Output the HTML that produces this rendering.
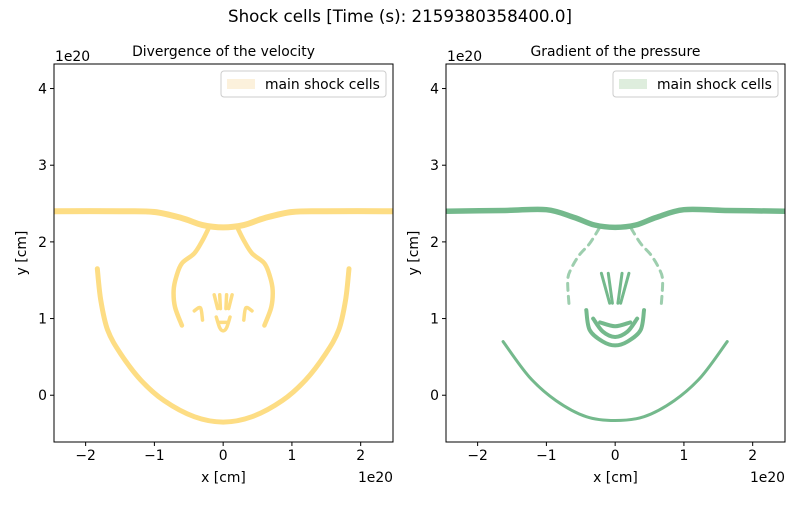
<!DOCTYPE html>
<html><head><meta charset="utf-8"><style>
body{margin:0;background:#fff}
svg{font-family:"DejaVu Sans","Liberation Sans",sans-serif}
</style></head><body>
<svg id="fig" width="800" height="500" viewBox="0 0 800 500">
<text x="400" y="22" text-anchor="middle" font-size="16.7">Shock cells [Time (s): 2159380358400.0]</text>
</svg>
<script>
// axis domain (units of 1e20 cm)
const xTicks=[-2,-1,0,1,2];
const xTickLabels=["−2","−1","0","1","2"];
const yTicks=[0,1,2,3,4];
const yTickLabels=["0","1","2","3","4"];
const xDomain=[-2.46,2.47];
const yDomain=[-0.61,4.32];
// left panel (divergence) features
const divTopLine=[[-2.46,2.4],[-1.5,2.4],[-1.0,2.39],[-0.6,2.31],[-0.3,2.22],[0,2.19],[0.3,2.22],[0.6,2.31],[1.0,2.39],[1.5,2.4],[2.47,2.4]];
const divBowL=[[-0.2,2.2],[-0.3,2.02],[-0.42,1.85],[-0.6,1.72],[-0.68,1.55],[-0.72,1.37],[-0.7,1.15],[-0.6,0.91]];
const divBowR=[[0.2,2.2],[0.3,2.02],[0.42,1.85],[0.6,1.72],[0.68,1.55],[0.72,1.37],[0.7,1.15],[0.6,0.91]];
const divArc=[[-1.83,1.65],[-1.78,1.24],[-1.68,0.85],[-1.49,0.54],[-1.2,0.2],[-0.86,-0.07],[-0.42,-0.28],[0,-0.35],[0.42,-0.28],[0.86,-0.07],[1.2,0.2],[1.49,0.54],[1.68,0.85],[1.78,1.24],[1.83,1.65]];
const divBits=[
 [[-0.13,1.31],[-0.08,1.13]],[[-0.05,1.31],[-0.04,1.13]],[[0.05,1.31],[0.04,1.13]],[[0.13,1.31],[0.08,1.13]],
 [[-0.1,1.02],[-0.05,0.88],[0,0.84],[0.05,0.88],[0.1,1.02]],[[-0.06,0.95],[0.06,0.95]],
 [[-0.42,1.1],[-0.33,1.14],[-0.3,0.98]],[[0.42,1.1],[0.33,1.14],[0.3,0.98]]];
// right panel (pressure gradient) features
const grdTopLine=[[-2.46,2.4],[-1.6,2.41],[-1.0,2.42],[-0.6,2.32],[-0.3,2.22],[0,2.19],[0.3,2.22],[0.6,2.32],[1.0,2.42],[1.6,2.41],[2.47,2.4]];
const grdBowL=[[-0.23,2.18],[-0.37,1.98],[-0.52,1.83],[-0.64,1.65],[-0.69,1.5],[-0.67,1.17]];
const grdBowR=[[0.23,2.18],[0.37,1.98],[0.52,1.83],[0.64,1.65],[0.69,1.5],[0.67,1.17]];
const grdArc=[[-1.63,0.7],[-1.25,0.24],[-0.86,-0.07],[-0.42,-0.28],[0,-0.33],[0.42,-0.28],[0.86,-0.07],[1.25,0.24],[1.63,0.7]];
const grdFingers=[[[-0.2,1.59],[-0.08,1.2]],[[-0.1,1.59],[-0.04,1.2]],[[0.1,1.59],[0.04,1.2]],[[0.2,1.59],[0.08,1.2]]];
const grdU=[
 [[-0.42,1.11],[-0.37,0.85],[-0.18,0.7],[0,0.65],[0.18,0.7],[0.37,0.85],[0.42,1.11]],
 [[-0.32,1.0],[-0.18,0.83],[0,0.76],[0.18,0.83],[0.32,1.0]],
 [[-0.22,0.95],[0,0.9],[0.22,0.95]]];

const NS="http://www.w3.org/2000/svg";
const svg=document.getElementById('fig');
function mk(t,a,p){const e=document.createElementNS(NS,t);for(const k in a)e.setAttribute(k,a[k]);(p||svg).appendChild(e);return e;}
function smooth(P){
  if(P.length<3)return 'M'+P.map(p=>p.join(',')).join(' L');
  let d='M'+P[0][0]+','+P[0][1];
  for(let i=0;i<P.length-1;i++){
    const p0=P[Math.max(0,i-1)],p1=P[i],p2=P[i+1],p3=P[Math.min(P.length-1,i+2)];
    const c1=[p1[0]+(p2[0]-p0[0])/6,p1[1]+(p2[1]-p0[1])/6];
    const c2=[p2[0]-(p3[0]-p1[0])/6,p2[1]-(p3[1]-p1[1])/6];
    d+=' C'+c1+' '+c2+' '+p2;
  }
  return d;
}
function panel(x0,x1,y0,y1,title,col,colLeg,feats,prefix){
  const sx=v=>x0+(v-xDomain[0])/(xDomain[1]-xDomain[0])*(x1-x0);
  const sy=v=>y1-(v-yDomain[0])/(yDomain[1]-yDomain[0])*(y1-y0);
  const g=mk('g',{});
  
  
  const clip=mk('clipPath',{id:prefix+'clip'},g);
  mk('rect',{x:x0,y:y0,width:x1-x0,height:y1-y0},clip);
  const fg=mk('g',{'clip-path':'url(#'+prefix+'clip)'},g);
  feats.forEach(f=>{
    const p=mk('path',{d:smooth(f.pts.map(q=>[sx(q[0]),sy(q[1])])),fill:'none',stroke:col,'stroke-width':f.w,'stroke-linejoin':'round','stroke-linecap':'round','stroke-dasharray':f.dash||'none',opacity:f.op||1},fg);
    
    
  });
  const fr=mk('rect',{x:x0,y:y0,width:x1-x0,height:y1-y0,fill:'none',stroke:'#000','stroke-width':1},g);
  
  
  xTicks.forEach((t,i)=>{
    const X=sx(t);
    mk('line',{x1:X,x2:X,y1:y1,y2:y1+4,stroke:'#000'},g);
    const tx=mk('text',{x:X,y:y1+18,'text-anchor':'middle','font-size':13.9},g);
    tx.textContent=xTickLabels[i];
    
    
  });
  yTicks.forEach((t,i)=>{
    const Y=sy(t);
    mk('line',{x1:x0-4,x2:x0,y1:Y,y2:Y,stroke:'#000'},g);
    const tx=mk('text',{x:x0-7,y:Y+5,'text-anchor':'end','font-size':13.9},g);
    tx.textContent=yTickLabels[i];
    
    
  });
  const mid=(x0+x1)/2;
  let t=mk('text',{x:mid,y:56,'text-anchor':'middle','font-size':13.9},g);t.textContent=title;
  
  
  t=mk('text',{x:mid,y:482,'text-anchor':'middle','font-size':13.9},g);t.textContent='x [cm]';
  
  
  t=mk('text',{x:0,y:0,'text-anchor':'middle','font-size':13.9,transform:'translate('+(x0-28)+','+((y0+y1)/2)+') rotate(-90)'},g);t.textContent='y [cm]';
  
  
  t=mk('text',{x:x0+1,y:61,'font-size':13.9},g);t.textContent='1e20';
  
  
  t=mk('text',{x:x1,y:482,'text-anchor':'end','font-size':13.9},g);t.textContent='1e20';
  
  
  const lg=mk('g',{},g);
  
  
  mk('rect',{x:x1-172,y:71,width:165,height:26,rx:3,fill:'#fff',stroke:'#ccc'},lg);
  mk('rect',{x:x1-166,y:79,width:28,height:10,fill:colLeg},lg);
  t=mk('text',{x:x1-128,y:89,'font-size':13.9},lg);t.textContent='main shock cells';
  
  
}
const Y='#fddd84', G='#74b98c';
const leftFeats=[{pts:divTopLine,w:6,name:'div-top-shock'},{pts:divBowL,w:4.5,name:'div-bow-left'},{pts:divBowR,w:4.5,name:'div-bow-right'},{pts:divArc,w:5,name:'div-outer-arc'}].concat(divBits.map(b=>({pts:b,w:3.5,name:'div-inner-cell'})));
const rightFeats=[{pts:grdTopLine,w:5.5,name:'grad-top-shock'},{pts:grdBowL,w:3,name:'grad-bow-left',dash:'7 6',op:0.7},{pts:grdBowR,w:3,name:'grad-bow-right',dash:'7 6',op:0.7},{pts:grdArc,w:3,name:'grad-outer-arc'}].concat(grdFingers.map(b=>({pts:b,w:3,name:'grad-finger'}))).concat(grdU.map(b=>({pts:b,w:4,name:'grad-u-cell'})));
panel(54,393,64,442,'Divergence of the velocity',Y,'#fcf1dc',leftFeats,'div');
panel(446,785,64,442,'Gradient of the pressure',G,'#deeddd',rightFeats,'grad');
</script>
</body></html>
